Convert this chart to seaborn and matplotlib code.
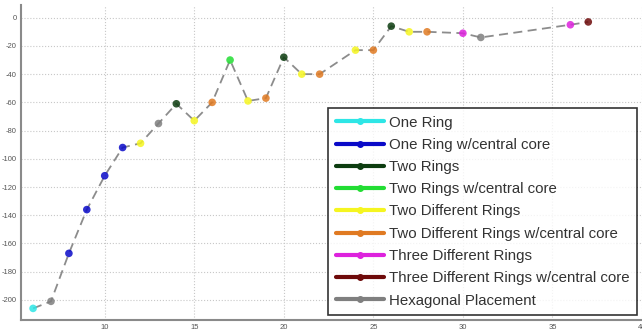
import numpy as np
import pandas as pd
import matplotlib
matplotlib.use("Agg")
import matplotlib.pyplot as plt
from matplotlib.lines import Line2D
import seaborn as sns

# data
x_vals = [6, 7, 8, 9, 10, 11, 12, 13, 14, 15, 16, 17, 18, 19, 20, 21, 22,
          24, 25, 26, 27, 28, 30, 31, 36, 37]
y_vals = [-206, -201, -167, -136, -112, -92, -89, -75, -61, -73, -60, -30,
          -59, -57, -28, -40, -40, -23, -23, -6, -10, -10, -11, -14, -5, -3]
configs = ["One Ring", "Hexagonal Placement", "One Ring w/central core",
           "One Ring w/central core", "One Ring w/central core",
           "One Ring w/central core", "Two Different Rings",
           "Hexagonal Placement", "Two Rings", "Two Different Rings",
           "Two Different Rings w/central core", "Two Rings w/central core",
           "Two Different Rings", "Two Different Rings w/central core",
           "Two Rings", "Two Different Rings",
           "Two Different Rings w/central core", "Two Different Rings",
           "Two Different Rings w/central core", "Two Rings",
           "Two Different Rings", "Two Different Rings w/central core",
           "Three Different Rings", "Hexagonal Placement",
           "Three Different Rings", "Three Different Rings w/central core"]

legend_order = ["One Ring", "One Ring w/central core", "Two Rings",
                "Two Rings w/central core", "Two Different Rings",
                "Two Different Rings w/central core", "Three Different Rings",
                "Three Different Rings w/central core", "Hexagonal Placement"]
palette = {
    "One Ring": "#2ee6e6",
    "One Ring w/central core": "#0a0ac8",
    "Two Rings": "#0d3d10",
    "Two Rings w/central core": "#22dd33",
    "Two Different Rings": "#f5f520",
    "Two Different Rings w/central core": "#e07a22",
    "Three Different Rings": "#dd22dd",
    "Three Different Rings w/central core": "#6e0a0a",
    "Hexagonal Placement": "#7f7f7f",
}

df = pd.DataFrame({"x": x_vals, "y": y_vals, "config": configs})

sns.set_style("white")
plt.rcParams["font.family"] = ["Liberation Sans", "DejaVu Sans"]
plt.rcParams["axes.unicode_minus"] = False
fig = plt.figure(figsize=(6.42, 3.33), dpi=100)
ax = fig.add_axes([0.032, 0.04, 0.968, 0.945])

sns.lineplot(data=df, x="x", y="y", ax=ax, color="#8c8c8c", lw=1.3,
             linestyle=(0, (5, 3)), sort=False, zorder=2)
sns.scatterplot(data=df, x="x", y="y", hue="config", palette=palette, ax=ax,
                s=30, edgecolor="none", alpha=0.85, legend=False, zorder=3)

ax.set_xlim(5.3, 40)
ax.set_ylim(-214, 9)
ax.set_xticks(np.arange(10, 41, 5))
ax.set_yticks(np.arange(0, -201, -20))
ax.grid(True, linestyle=":", color="#c8c8c8", lw=0.8)
ax.tick_params(labelsize=5.5, colors="#555555", length=2, pad=1)
ax.set_xlabel("")
ax.set_ylabel("")
for side in ["top", "right"]:
    ax.spines[side].set_visible(False)
for side in ["left", "bottom"]:
    ax.spines[side].set_color("#8a8a8a")
    ax.spines[side].set_linewidth(1.5)

handles = [Line2D([0], [0], color=palette[c], lw=3, marker="o", markersize=4)
           for c in legend_order]
leg = ax.legend(handles, legend_order, loc="lower right",
                bbox_to_anchor=(637 / 642, 18 / 333),
                bbox_transform=fig.transFigure, borderaxespad=0,
                fontsize=10.8, frameon=True, fancybox=False,
                edgecolor="black", handlelength=3.2, labelspacing=0.55,
                borderpad=0.5, handletextpad=0.35)
leg.get_frame().set_linewidth(1.2)
for t in leg.get_texts():
    t.set_color("#333333")

fig.savefig("out.png", dpi=100)
